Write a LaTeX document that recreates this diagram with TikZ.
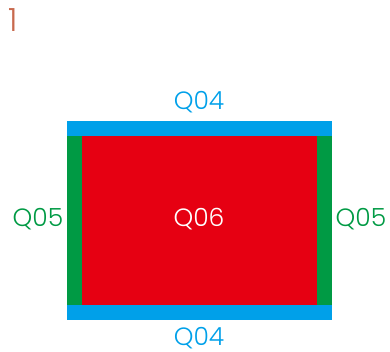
\documentclass[tikz,border=0pt]{standalone}
\usepackage{fontspec}
\setmainfont{Poppins}[UprightFont={* Light}]
\usetikzlibrary{positioning}

\definecolor{qblue}{HTML}{00A0E9}
\definecolor{qgreen}{HTML}{009A44}
\definecolor{qred}{HTML}{E60012}
\definecolor{qbrown}{HTML}{C8694E}

\begin{document}
\begin{tikzpicture}[
    x=1pt, y=-1pt,
    % --- STYLES ---
    lbl/.style={font=\fontsize{25}{25}\selectfont, inner sep=0pt},
    edgebar/.style={fill=qblue},
    sidebar/.style={fill=qgreen},
    core/.style={fill=qred}
]

\useasboundingbox (0,0) rectangle (390,351);

% ===== 1. PANEL NUMBER =====
\node[lbl, text=qbrown, font=\fontsize{32}{32}\selectfont, anchor=north west] (num) at (8,8) {1};

% ===== 2. BARS =====
\fill[core] (82,136) rectangle (317,305);
\fill[edgebar] (67,121) rectangle (332,136);
\fill[edgebar] (67,305) rectangle (332,320);
\fill[sidebar] (67,136) rectangle (82,305);
\fill[sidebar] (317,136) rectangle (332,305);

% ===== 3. LABELS =====
\node[lbl, text=qblue] (top) at (199,102) {Q04};
\node[lbl, text=qblue] (bottom) at (199,338) {Q04};
\node[lbl, text=qgreen] (left) at (38,219) {Q05};
\node[lbl, text=qgreen] (right) at (361,219) {Q05};
\node[lbl, text=white] (mid) at (199,219) {Q06};

\end{tikzpicture}
\end{document}
